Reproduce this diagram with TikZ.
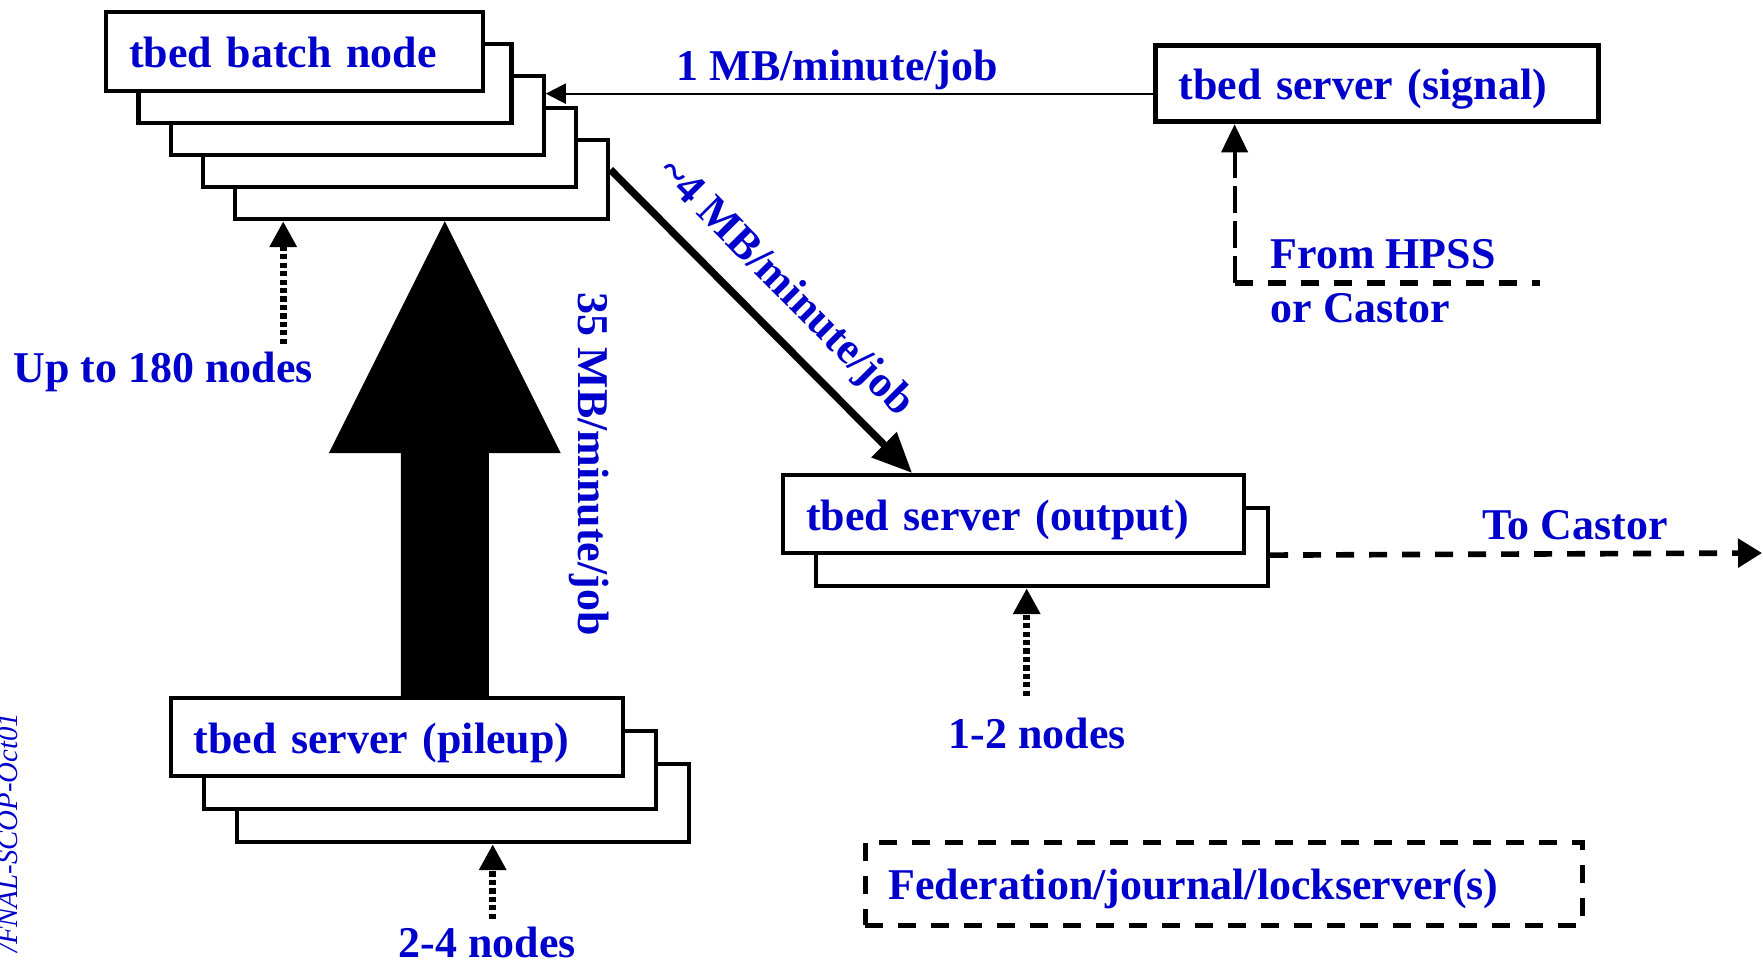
\documentclass[tikz,border=0pt]{standalone}
\usepackage{fontspec}
\setmainfont{Liberation Serif}
\usepackage{tikz}
\usetikzlibrary{arrows.meta,calc}
\definecolor{rateblue}{RGB}{0,0,204}

\begin{document}
\begin{tikzpicture}[x=0.1mm, y=-0.1mm,
    card/.style={draw, fill=white, line width=1.2pt, anchor=north west,
      minimum height=7.9mm, inner xsep=2.3mm, inner ysep=0pt,
      text height=3.2mm, text depth=0pt, align=left,
      text=rateblue, font=\bfseries\fontsize{12.5}{15}\selectfont},
    lbl/.style={inner sep=0pt, text=rateblue, font=\bfseries\fontsize{12.5}{15}\selectfont},
    dotarrow/.style={line width=1.9pt, dash pattern=on 1.5pt off 0.9pt,
      -{Triangle[length=2.6mm,width=2.6mm]}},
    dashline/.style={line width=1.6pt, dash pattern=on 1.8mm off 1.5mm}]
  \useasboundingbox (0,0) rectangle (1763,963);

  \foreach \k in {4,3,2,1}
    \node[card, text width=32.7mm] (batch\k) at ({104+32.3*\k},{10+32*\k}) {};
  \node[card, text width=33.1mm] (batch) at (104,10) {tbed batch node};

  \node[card, line width=1.5pt, minimum height=7.6mm, text width=39.7mm] (signal) at (1153,43) {tbed server (signal)};

  \node[card, minimum height=7.8mm, text width=40.6mm] (output1) at (814,506) {};
  \node[card, minimum height=7.8mm, text width=41.5mm] (output) at (781,473) {tbed server (output)};

  \foreach \k in {2,1}
    \node[card, minimum height=7.8mm, text width=40.6mm] (pileup\k) at ({168.5+33*\k},{696+33*\k}) {};
  \node[card, minimum height=7.8mm, text width=40.6mm] (pileup) at (168.5,696) {tbed server (pileup)};

  \node[card, fill=none, dash pattern=on 1.8mm off 1.5mm, line width=1.4pt,
    minimum height=8.3mm, text width=67.1mm] (fed) at (863,840) {Federation/journal/lockserver(s)};

  \node[lbl, anchor=base west] (upto) at (13,382) {Up to 180 nodes};
  \node[lbl, anchor=base west] (twofour) at (398,957) {2-4 nodes};
  \node[lbl, anchor=base west] (onetwo) at (948,748) {1-2 nodes};
  \node[lbl, anchor=base west] (hpss) at (1270,268) {From HPSS};
  \node[lbl, anchor=base west] (castor) at (1270,322) {or Castor};
  \node[lbl, rotate=-90, anchor=base west] (rate35) at (578,292) {35 MB/minute/job};
  \node[inner sep=0pt, text=rateblue, font=\itshape\fontsize{8.2}{10}\selectfont,
    rotate=90, anchor=base east] (tag) at (17,712) {/FNAL-SCOP-Oct01};

  \coordinate (bend) at (1234.6,283);
  \coordinate (bendend) at (1540,283);
  \coordinate (tocastor) at (1762,553);
  \coordinate (bigtip) at ([xshift=2.3mm]batch4.south);

  \fill (bigtip) -- ++(116,232) -- ++(-72,0) -- ++(0,245) -- ++(-88,0) -- ++(0,-245) -- ++(-72,0) -- cycle;

  \draw[line width=0.6pt, -{Triangle[length=2mm,width=2mm]}] ([yshift=-1mm]signal.west) -- ([yshift=-1mm]signal.west -| batch2.east)
    node[lbl, pos=0.52, above=0.3mm] (rate1) {1 MB/minute/job};
  \draw[line width=2.1pt, -{Triangle[length=4mm,width=3.4mm]}] ([yshift=1mm]batch4.east) -- ([xshift=-10.15mm]output.north)
    node[lbl, sloped, pos=0.485, above=1.6mm] (rate4) {\textasciitilde4 MB/minute/job};

  \draw[dotarrow] ([xshift=12mm,yshift=0.7mm]upto.north) -- ([xshift=12mm]upto.north |- batch4.south);
  \draw[dotarrow] ([xshift=0.55mm,yshift=0.7mm]twofour.north) -- ([xshift=0.55mm]twofour.north |- pileup2.south);
  \draw[dotarrow] ([xshift=-1.05mm,yshift=2.1mm]onetwo.north) -- ([xshift=-1.05mm]onetwo.north |- output1.south);

  \draw[line width=1.1pt, dash pattern=on 2.7mm off 0.8mm, -{Triangle[length=2.8mm,width=2.6mm]}] (bend) -- (bend |- signal.south);
  \draw[dashline] (bend) -- (bendend);
  \draw[dashline, -{Triangle[length=2.4mm,width=2.8mm]}] ([yshift=-0.8mm]output1.east) -- (tocastor)
    node[lbl, pos=0.62, above=1.1mm] (rateout) {To Castor};
\end{tikzpicture}
\end{document}
